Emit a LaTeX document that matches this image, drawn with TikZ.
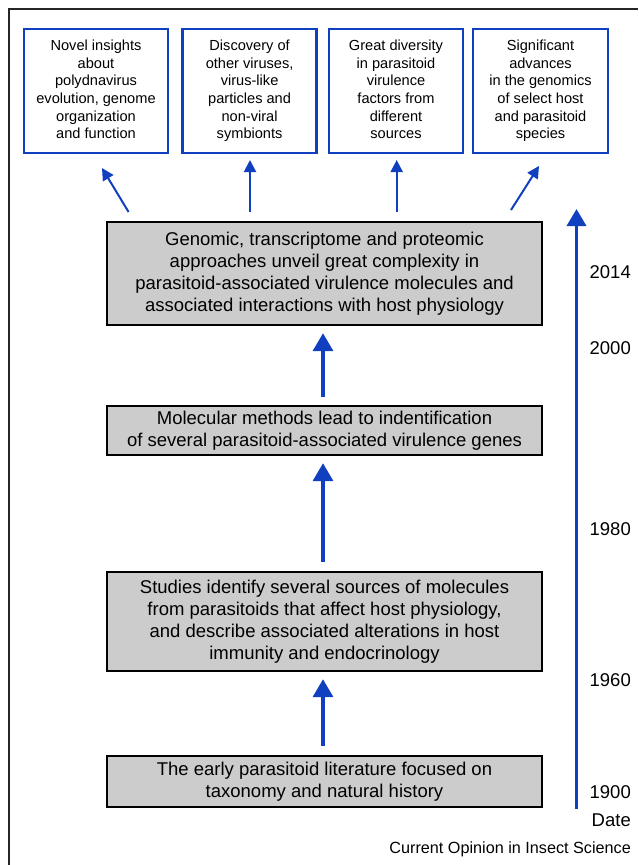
\documentclass[tikz,border=0pt]{standalone}
\usepackage{fontspec}
\setmainfont{Liberation Sans}
\usetikzlibrary{arrows.meta}
\definecolor{arrblue}{RGB}{16,64,192}
\definecolor{boxgray}{RGB}{204,204,204}
\begin{document}
\begin{tikzpicture}[x=1pt,y=-1pt,
  graybox/.style={draw=black,line width=2.4pt,fill=boxgray,minimum width=435pt,inner sep=0pt,align=center,font=\fontsize{18.5}{22}\selectfont},
  bluebox/.style={draw=arrblue,line width=2.4pt,fill=white,minimum height=124pt,inner sep=0pt,align=center,font=\fontsize{14.6}{17.6}\selectfont},
  bigarrow/.style={draw=arrblue,line width=3.6pt,-{Triangle[width=20pt,length=18pt]}},
  smallarrow/.style={draw=arrblue,line width=2pt,-{Triangle[width=12pt,length=12pt]}},
  yearlbl/.style={anchor=east,inner sep=0pt,font=\fontsize{18.5}{22}\selectfont}]
\useasboundingbox (0,0) rectangle (638,865);
% frame
\draw[line width=1.3pt,black!85] (9,865) -- (9,9) -- (638,9);
% top blue boxes
\node[bluebox,minimum width=144pt] (b1) at (96,91) {Novel insights\\about\\polydnavirus\\evolution, genome\\organization\\and function\vphantom{p}};
\node[bluebox,minimum width=134pt] (b2) at (249.6,91) {Discovery of\\other viruses,\\virus-like\\particles and\\non-viral\\symbionts};
\node[bluebox,minimum width=134pt] (b3) at (396,91) {Great diversity\\in parasitoid\\virulence\\factors from\\different\\sources\vphantom{p}};
\node[bluebox,minimum width=135pt] (b4) at (540.5,91) {Significant\\advances\\in the genomics\\of select host\\and parasitoid\\species};
% gray boxes
\node[graybox,minimum height=103pt] (A) at (324.5,273.5) {Genomic, transcriptome and proteomic\\approaches unveil great complexity in\\parasitoid-associated virulence molecules and\\associated interactions with host physiology};
\node[graybox,minimum height=49pt] (B) at (324.5,430.5) {Molecular methods lead to indentification\\of several parasitoid-associated virulence genes};
\node[graybox,minimum height=99pt] (C) at (324.5,621.5) {Studies identify several sources of molecules\\from parasitoids that affect host physiology,\\and describe associated alterations in host\\immunity and endocrinology};
\node[graybox,minimum height=51pt] (D) at (324.5,781.5) {The early parasitoid literature focused on\\taxonomy and natural history};
% arrows between gray boxes
\draw[bigarrow,shorten <=9pt,shorten >=7pt] (D.north -| 323,0) -- (C.south -| 323,0);
\draw[bigarrow,shorten <=9pt,shorten >=7pt] (C.north -| 323,0) -- (B.south -| 323,0);
\draw[bigarrow,shorten <=8pt,shorten >=7pt] (B.north -| 323,0) -- (A.south -| 323,0);
% top arrows
\coordinate (t1) at (128.6,212); \coordinate (h1) at (102,168);
\coordinate (t2) at (250,212);   \coordinate (h2) at (250,160);
\coordinate (t3) at (396.7,212); \coordinate (h3) at (396.7,160);
\coordinate (t4) at (511,210);   \coordinate (h4) at (539,166);
\draw[smallarrow] (t1) -- (h1);
\draw[smallarrow] (t2) -- (h2);
\draw[smallarrow] (t3) -- (h3);
\draw[smallarrow] (t4) -- (h4);
% time axis
\coordinate (tl0) at (576.5,809);
\coordinate (tl1) at (576.5,209);
\draw[draw=arrblue,line width=3.6pt,-{Triangle[width=19pt,length=17pt]}] (tl0) -- (tl1);
\node[yearlbl] (y2014) at (631,272) {2014};
\node[yearlbl] (y2000) at (631,348) {2000};
\node[yearlbl] (y1980) at (631,529) {1980};
\node[yearlbl] (y1960) at (631,680) {1960};
\node[yearlbl] (y1900) at (631,792) {1900};
\node[yearlbl] (date) at (631,820) {Date};
\node[anchor=east,inner sep=0pt,font=\fontsize{16.2}{19}\selectfont] (src) at (631,849) {Current Opinion in Insect Science};
\end{tikzpicture}
\end{document}
